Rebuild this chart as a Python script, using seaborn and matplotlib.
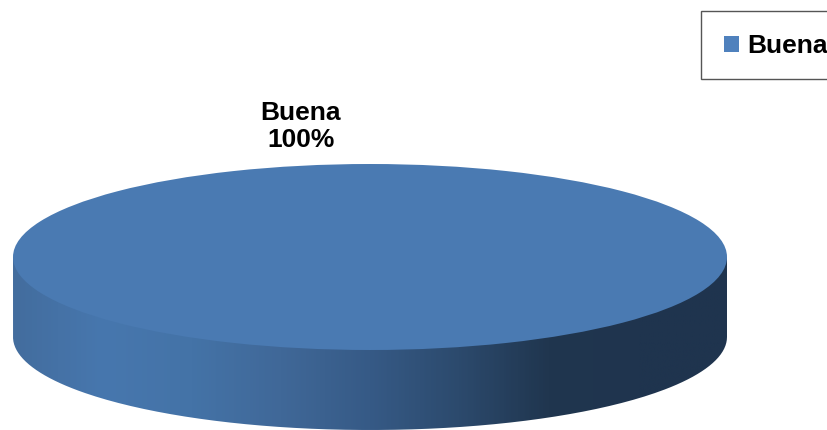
import numpy as np
import matplotlib
matplotlib.use("Agg")
import matplotlib.pyplot as plt
from matplotlib.patches import Patch, PathPatch, Rectangle
from matplotlib.path import Path
import seaborn as sns

categories = ["Buena"]
values = [100]
percent_labels = ["100%"]

top_color = "#4a7ab2"
side_stops = ["#436d9e", "#4777ae", "#4473a7", "#406898", "#365a86", "#2c4a6d", "#20364f", "#1f344e", "#1f344e"]

sns.set_theme(style="white")
plt.rcParams['font.family'] = ['Liberation Sans', 'DejaVu Sans']

W, H = 828, 430
fig = plt.figure(figsize=(W / 100, H / 100), dpi=100)

# background axes in pixels, for the side of the disc
bg = fig.add_axes([0, 0, 1, 1])
bg.set_xlim(0, W)
bg.set_ylim(H, 0)
bg.axis("off")

cx, cy, rx, ry, depth = 370, 257, 357, 93, 80
t = np.linspace(np.pi, 0, 200)
arc_x = cx + rx * np.cos(t)
arc_y = cy + depth + ry * np.sin(t)
outline = np.column_stack([
    np.r_[cx - rx, arc_x, cx + rx, cx - rx],
    np.r_[cy, arc_y, cy, cy],
])
clip = PathPatch(Path(outline), transform=bg.transData, fc="none", ec="none")
bg.add_patch(clip)

side_cmap = sns.blend_palette(side_stops, as_cmap=True)
grad = np.linspace(0, 1, 400).reshape(1, -1)
im = bg.imshow(grad, cmap=side_cmap, aspect="auto",
               extent=(cx - rx, cx + rx, cy + depth + ry, cy))
im.set_clip_path(clip)
bg.set_xlim(0, W)
bg.set_ylim(H, 0)

# top of the disc, a pie squashed into an ellipse
ax = fig.add_axes([(cx - rx) / W, 1 - (cy + ry) / H, 2 * rx / W, 2 * ry / H])
wedges, _ = ax.pie(values, colors=[top_color], radius=1, startangle=90,
                   wedgeprops={"edgecolor": "none", "linewidth": 0})
ax.set_aspect("auto")
ax.set_xlim(-1, 1)
ax.set_ylim(-1, 1)

bg.text(301, 126.5, categories[0] + "\n" + percent_labels[0], ha="center", va="center",
        fontsize=19, fontweight="bold", color="black", linespacing=1.2)

# legend box runs off the right side of the picture
bg.add_patch(Rectangle((701.5, 10.5), 140, 68.5, fc="white", ec="#555555", lw=1))
handles = [Patch(facecolor="#4f81bd", edgecolor="none", label=categories[0])]
leg = fig.legend(handles=handles, loc="upper left",
                 bbox_to_anchor=(702 / W, 1 - 12 / H), bbox_transform=fig.transFigure,
                 prop={"weight": "bold", "size": 19}, frameon=False,
                 borderpad=0.85, handlelength=0.55, handleheight=0.55,
                 handletextpad=0.3, borderaxespad=0)
for t_ in leg.get_texts():
    t_.set_color("black")

fig.savefig("out.png", dpi=100)
